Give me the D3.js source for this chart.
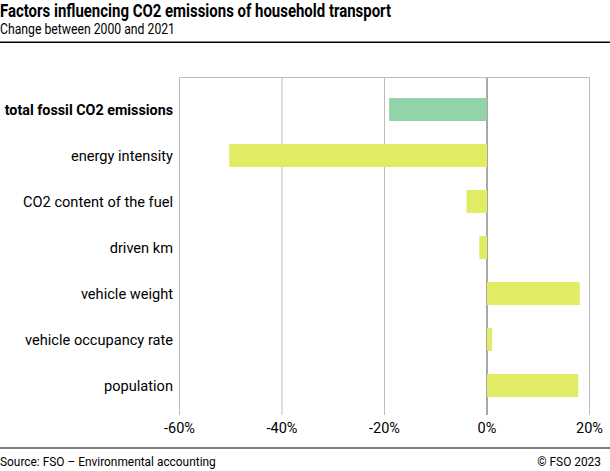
<!DOCTYPE html>
<html>
<head>
<meta charset="utf-8">
<script src="https://cdn.jsdelivr.net/npm/d3@7"></script>
<style>
  body { margin: 0; background: #fff; font-family: Roboto, sans-serif; }
  svg text { fill: #000; }
</style>
</head>
<body>
<div id="chart"></div>
<script>
const categories = [
  'total fossil CO2 emissions',
  'energy intensity',
  'CO2 content of the fuel',
  'driven km',
  'vehicle weight',
  'vehicle occupancy rate',
  'population'
]
const values = [-19.1, -50.3, -4.0, -1.5, 18.1, 1.0, 17.8]
const xTicks = [-60, -40, -20, 0, 20]

const width = 610
const height = 471

const svg = d3.select('#chart')
  .append('svg')
  .attr('width', width)
  .attr('height', height)

// header (narrow face in the original, so squeeze to its width)
svg.append('text')
  .attr('x', 0).attr('y', 17)
  .attr('textLength', 391).attr('lengthAdjust', 'spacingAndGlyphs')
  .style('font-size', '17.5px').style('font-weight', 'bold')
  .text('Factors influencing CO2 emissions of household transport')
svg.append('text')
  .attr('x', 0).attr('y', 34)
  .attr('textLength', 175).attr('lengthAdjust', 'spacingAndGlyphs')
  .style('font-size', '14.5px')
  .text('Change between 2000 and 2021')
svg.append('rect')
  .attr('x', 0).attr('y', 41.5).attr('width', width).attr('height', 1.5)
  .attr('fill', '#000')

const x = d3.scaleLinear().domain([-60, 20]).range([179.5, 589.5])
const y = d3.scaleBand().domain(categories).range([86.5, 408.5])
  .paddingInner(0.5).paddingOuter(0.25)
const plotTop = 77.5
const plotBottom = 410

// grid
svg.append('g')
  .selectAll('line')
  .data(xTicks)
  .enter()
  .append('line')
  .attr('x1', d => x(d)).attr('x2', d => x(d))
  .attr('y1', plotTop).attr('y2', plotBottom + 5)
  .attr('stroke', d => d === 0 ? '#8a8a8a' : '#bdbdbd')
  .attr('stroke-width', d => d === 0 ? 1.5 : 1)

svg.append('line')
  .attr('x1', x(-60)).attr('x2', x(20))
  .attr('y1', plotTop).attr('y2', plotTop)
  .attr('stroke', '#bdbdbd')

// bars
svg.append('g')
  .selectAll('rect')
  .data(categories)
  .enter()
  .append('rect')
  .attr('x', (d, i) => x(Math.min(0, values[i])))
  .attr('width', (d, i) => Math.abs(x(values[i]) - x(0)))
  .attr('y', d => y(d))
  .attr('height', y.bandwidth())
  .attr('fill', (d, i) => i === 0 ? '#93d3a9' : '#e1eb64')

// category labels
svg.append('g')
  .selectAll('text')
  .data(categories)
  .enter()
  .append('text')
  .attr('x', 173)
  .attr('y', d => y(d) + y.bandwidth() / 2)
  .attr('dy', '0.35em')
  .attr('text-anchor', 'end')
  .style('font-size', (d, i) => i === 0 ? '14.3px' : '14.6px')
  .style('font-weight', (d, i) => i === 0 ? 'bold' : 'normal')
  .text(d => d)

// x tick labels
svg.append('g')
  .selectAll('text')
  .data(xTicks)
  .enter()
  .append('text')
  .attr('x', d => x(d))
  .attr('y', 433)
  .attr('text-anchor', 'middle')
  .style('font-size', '14.5px')
  .text(d => d + '%')

// footer
svg.append('line')
  .attr('x1', 0).attr('x2', width)
  .attr('y1', 448).attr('y2', 448)
  .attr('stroke', '#000')
svg.append('text')
  .attr('x', 0).attr('y', 466)
  .style('font-size', '11.9px')
  .text('Source: FSO – Environmental accounting')
svg.append('text')
  .attr('x', 601).attr('y', 466)
  .attr('text-anchor', 'end')
  .style('font-size', '11.9px')
  .text('© FSO 2023')
</script>
</body>
</html>
